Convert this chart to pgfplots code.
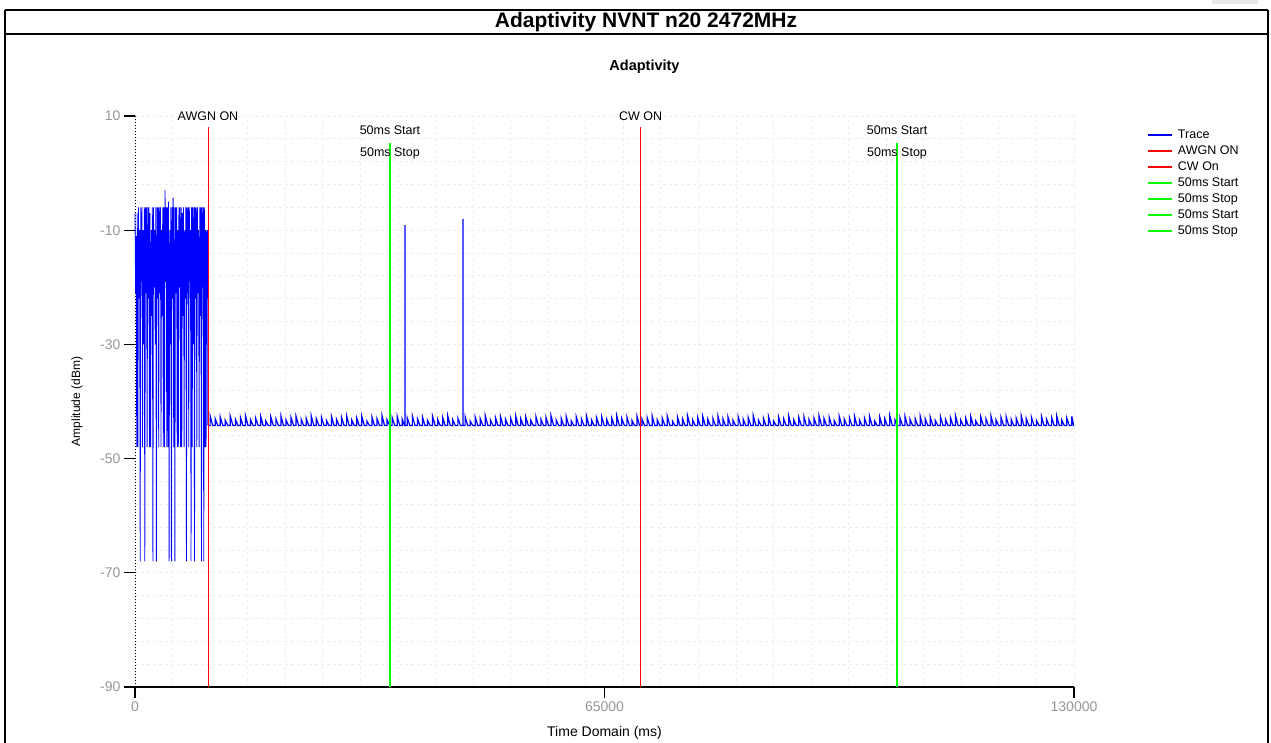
\documentclass[border=0pt]{standalone}
\usepackage{pgfplots}
\pgfplotsset{compat=1.18}
\usepackage{pgfplotstable}
\usepackage{fontspec}
\setmainfont{Liberation Sans}

\definecolor{tracebl}{RGB}{0,0,255}
\definecolor{markred}{RGB}{255,0,0}
\definecolor{markgrn}{RGB}{0,255,0}
\definecolor{tickgray}{RGB}{150,150,150}
\definecolor{gridgray}{RGB}{238,238,238}

% Noise floor after the AWGN burst (-44.2 dBm) with its small spikes:
% each spike is base -> peak -> base
\pgfplotstableread[row sep=\\]{
x y\\
10220 -44.2\\
10400 -44.2\\ 10400 -42.5\\ 10750 -44.2\\ 11100 -44.2\\ 11100 -43.0\\ 11450 -44.2\\
11800 -44.2\\ 11800 -42.7\\ 12150 -44.2\\ 12500 -44.2\\ 12500 -43.3\\ 12850 -44.2\\
13200 -44.2\\ 13200 -42.6\\ 13550 -44.2\\ 13900 -44.2\\ 13900 -43.1\\ 14250 -44.2\\
14600 -44.2\\ 14600 -42.8\\ 14950 -44.2\\ 15300 -44.2\\ 15300 -42.5\\ 15650 -44.2\\
16000 -44.2\\ 16000 -43.2\\ 16350 -44.2\\ 16700 -44.2\\ 16700 -42.9\\ 17050 -44.2\\
17400 -44.2\\ 17400 -42.6\\ 17750 -44.2\\ 18100 -44.2\\ 18100 -43.4\\ 18450 -44.2\\
18800 -44.2\\ 18800 -42.7\\ 19150 -44.2\\ 19500 -44.2\\ 19500 -43.0\\ 19850 -44.2\\
20200 -44.2\\ 20200 -42.5\\ 20550 -44.2\\ 20900 -44.2\\ 20900 -43.2\\ 21250 -44.2\\
21600 -44.2\\ 21600 -42.8\\ 21950 -44.2\\ 22300 -44.2\\ 22300 -42.6\\ 22650 -44.2\\
23000 -44.2\\ 23000 -43.1\\ 23350 -44.2\\ 23700 -44.2\\ 23700 -42.9\\ 24050 -44.2\\
24400 -44.2\\ 24400 -42.5\\ 24750 -44.2\\ 25100 -44.2\\ 25100 -43.0\\ 25450 -44.2\\
25800 -44.2\\ 25800 -42.7\\ 26150 -44.2\\ 26500 -44.2\\ 26500 -43.3\\ 26850 -44.2\\
27200 -44.2\\ 27200 -42.6\\ 27550 -44.2\\ 27900 -44.2\\ 27900 -43.1\\ 28250 -44.2\\
28600 -44.2\\ 28600 -42.8\\ 28950 -44.2\\ 29300 -44.2\\ 29300 -42.5\\ 29650 -44.2\\
30000 -44.2\\ 30000 -43.2\\ 30350 -44.2\\ 30700 -44.2\\ 30700 -42.9\\ 31050 -44.2\\
31400 -44.2\\ 31400 -42.6\\ 31750 -44.2\\ 32100 -44.2\\ 32100 -43.4\\ 32450 -44.2\\
32800 -44.2\\ 32800 -42.7\\ 33150 -44.2\\ 33500 -44.2\\ 33500 -43.0\\ 33850 -44.2\\
34200 -44.2\\ 34200 -42.5\\ 34550 -44.2\\ 34900 -44.2\\ 34900 -43.2\\ 35250 -44.2\\
35600 -44.2\\ 35600 -42.8\\ 35950 -44.2\\ 36300 -44.2\\ 36300 -42.6\\ 36650 -44.2\\
37000 -44.2\\ 37000 -43.1\\ 37300 -44.2\\ 37380 -44.2\\ 37380 -9.1\\ 37390 -44.2\\
37700 -44.2\\ 37700 -42.9\\ 38050 -44.2\\ 38400 -44.2\\ 38400 -42.5\\ 38750 -44.2\\
39100 -44.2\\ 39100 -43.0\\ 39450 -44.2\\ 39800 -44.2\\ 39800 -42.7\\ 40150 -44.2\\
40500 -44.2\\ 40500 -43.3\\ 40850 -44.2\\ 41200 -44.2\\ 41200 -42.6\\ 41550 -44.2\\
41900 -44.2\\ 41900 -43.1\\ 42250 -44.2\\ 42600 -44.2\\ 42600 -42.8\\ 42950 -44.2\\
43300 -44.2\\ 43300 -42.5\\ 43650 -44.2\\ 44000 -44.2\\ 44000 -43.2\\ 44350 -44.2\\
44700 -44.2\\ 44700 -42.9\\ 45050 -44.2\\ 45410 -44.2\\ 45410 -8.0\\ 45420 -44.2\\
45700 -44.2\\ 45700 -42.6\\ 46050 -44.2\\ 46400 -44.2\\ 46400 -43.4\\ 46750 -44.2\\
47100 -44.2\\ 47100 -42.7\\ 47450 -44.2\\ 47800 -44.2\\ 47800 -43.0\\ 48150 -44.2\\
48500 -44.2\\ 48500 -42.5\\ 48850 -44.2\\ 49200 -44.2\\ 49200 -43.2\\ 49550 -44.2\\
49900 -44.2\\ 49900 -42.8\\ 50250 -44.2\\ 50600 -44.2\\ 50600 -42.6\\ 50950 -44.2\\
51300 -44.2\\ 51300 -43.1\\ 51650 -44.2\\ 52000 -44.2\\ 52000 -42.9\\ 52350 -44.2\\
52700 -44.2\\ 52700 -42.5\\ 53050 -44.2\\ 53400 -44.2\\ 53400 -43.0\\ 53750 -44.2\\
54100 -44.2\\ 54100 -42.7\\ 54450 -44.2\\ 54800 -44.2\\ 54800 -43.3\\ 55150 -44.2\\
55500 -44.2\\ 55500 -42.6\\ 55850 -44.2\\ 56200 -44.2\\ 56200 -43.1\\ 56550 -44.2\\
56900 -44.2\\ 56900 -42.8\\ 57250 -44.2\\ 57600 -44.2\\ 57600 -42.5\\ 57950 -44.2\\
58300 -44.2\\ 58300 -43.2\\ 58650 -44.2\\ 59000 -44.2\\ 59000 -42.9\\ 59350 -44.2\\
59700 -44.2\\ 59700 -42.6\\ 60050 -44.2\\ 60400 -44.2\\ 60400 -43.4\\ 60750 -44.2\\
61100 -44.2\\ 61100 -42.7\\ 61450 -44.2\\ 61800 -44.2\\ 61800 -43.0\\ 62150 -44.2\\
62500 -44.2\\ 62500 -42.5\\ 62850 -44.2\\ 63200 -44.2\\ 63200 -43.2\\ 63550 -44.2\\
63900 -44.2\\ 63900 -42.8\\ 64250 -44.2\\ 64600 -44.2\\ 64600 -42.6\\ 64950 -44.2\\
65300 -44.2\\ 65300 -43.1\\ 65650 -44.2\\ 66000 -44.2\\ 66000 -42.9\\ 66350 -44.2\\
66700 -44.2\\ 66700 -42.5\\ 67050 -44.2\\ 67400 -44.2\\ 67400 -43.0\\ 67750 -44.2\\
68100 -44.2\\ 68100 -42.7\\ 68450 -44.2\\ 68800 -44.2\\ 68800 -43.3\\ 69150 -44.2\\
69500 -44.2\\ 69500 -42.6\\ 69850 -44.2\\ 70200 -44.2\\ 70200 -43.1\\ 70550 -44.2\\
70900 -44.2\\ 70900 -42.8\\ 71250 -44.2\\ 71600 -44.2\\ 71600 -42.5\\ 71950 -44.2\\
72300 -44.2\\ 72300 -43.2\\ 72650 -44.2\\ 73000 -44.2\\ 73000 -42.9\\ 73350 -44.2\\
73700 -44.2\\ 73700 -42.6\\ 74050 -44.2\\ 74400 -44.2\\ 74400 -43.4\\ 74750 -44.2\\
75100 -44.2\\ 75100 -42.7\\ 75450 -44.2\\ 75800 -44.2\\ 75800 -43.0\\ 76150 -44.2\\
76500 -44.2\\ 76500 -42.5\\ 76850 -44.2\\ 77200 -44.2\\ 77200 -43.2\\ 77550 -44.2\\
77900 -44.2\\ 77900 -42.8\\ 78250 -44.2\\ 78600 -44.2\\ 78600 -42.6\\ 78950 -44.2\\
79300 -44.2\\ 79300 -43.1\\ 79650 -44.2\\ 80000 -44.2\\ 80000 -42.9\\ 80350 -44.2\\
80700 -44.2\\ 80700 -42.5\\ 81050 -44.2\\ 81400 -44.2\\ 81400 -43.0\\ 81750 -44.2\\
82100 -44.2\\ 82100 -42.7\\ 82450 -44.2\\ 82800 -44.2\\ 82800 -43.3\\ 83150 -44.2\\
83500 -44.2\\ 83500 -42.6\\ 83850 -44.2\\ 84200 -44.2\\ 84200 -43.1\\ 84550 -44.2\\
84900 -44.2\\ 84900 -42.8\\ 85250 -44.2\\ 85600 -44.2\\ 85600 -42.5\\ 85950 -44.2\\
86300 -44.2\\ 86300 -43.2\\ 86650 -44.2\\ 87000 -44.2\\ 87000 -42.9\\ 87350 -44.2\\
87700 -44.2\\ 87700 -42.6\\ 88050 -44.2\\ 88400 -44.2\\ 88400 -43.4\\ 88750 -44.2\\
89100 -44.2\\ 89100 -42.7\\ 89450 -44.2\\ 89800 -44.2\\ 89800 -43.0\\ 90150 -44.2\\
90500 -44.2\\ 90500 -42.5\\ 90850 -44.2\\ 91200 -44.2\\ 91200 -43.2\\ 91550 -44.2\\
91900 -44.2\\ 91900 -42.8\\ 92250 -44.2\\ 92600 -44.2\\ 92600 -42.6\\ 92950 -44.2\\
93300 -44.2\\ 93300 -43.1\\ 93650 -44.2\\ 94000 -44.2\\ 94000 -42.9\\ 94350 -44.2\\
94700 -44.2\\ 94700 -42.5\\ 95050 -44.2\\ 95400 -44.2\\ 95400 -43.0\\ 95750 -44.2\\
96100 -44.2\\ 96100 -42.7\\ 96450 -44.2\\ 96800 -44.2\\ 96800 -43.3\\ 97150 -44.2\\
97500 -44.2\\ 97500 -42.6\\ 97850 -44.2\\ 98200 -44.2\\ 98200 -43.1\\ 98550 -44.2\\
98900 -44.2\\ 98900 -42.8\\ 99250 -44.2\\ 99600 -44.2\\ 99600 -42.5\\ 99950 -44.2\\
100300 -44.2\\ 100300 -43.2\\ 100650 -44.2\\ 101000 -44.2\\ 101000 -42.9\\ 101350 -44.2\\
101700 -44.2\\ 101700 -42.6\\ 102050 -44.2\\ 102400 -44.2\\ 102400 -43.4\\ 102750 -44.2\\
103100 -44.2\\ 103100 -42.7\\ 103450 -44.2\\ 103800 -44.2\\ 103800 -43.0\\ 104150 -44.2\\
104500 -44.2\\ 104500 -42.5\\ 104850 -44.2\\ 105200 -44.2\\ 105200 -43.2\\ 105550 -44.2\\
105900 -44.2\\ 105900 -42.8\\ 106250 -44.2\\ 106600 -44.2\\ 106600 -42.6\\ 106950 -44.2\\
107300 -44.2\\ 107300 -43.1\\ 107650 -44.2\\ 108000 -44.2\\ 108000 -42.9\\ 108350 -44.2\\
108700 -44.2\\ 108700 -42.5\\ 109050 -44.2\\ 109400 -44.2\\ 109400 -43.0\\ 109750 -44.2\\
110100 -44.2\\ 110100 -42.7\\ 110450 -44.2\\ 110800 -44.2\\ 110800 -43.3\\ 111150 -44.2\\
111500 -44.2\\ 111500 -42.6\\ 111850 -44.2\\ 112200 -44.2\\ 112200 -43.1\\ 112550 -44.2\\
112900 -44.2\\ 112900 -42.8\\ 113250 -44.2\\ 113600 -44.2\\ 113600 -42.5\\ 113950 -44.2\\
114300 -44.2\\ 114300 -43.2\\ 114650 -44.2\\ 115000 -44.2\\ 115000 -42.9\\ 115350 -44.2\\
115700 -44.2\\ 115700 -42.6\\ 116050 -44.2\\ 116400 -44.2\\ 116400 -43.4\\ 116750 -44.2\\
117100 -44.2\\ 117100 -42.7\\ 117450 -44.2\\ 117800 -44.2\\ 117800 -43.0\\ 118150 -44.2\\
118500 -44.2\\ 118500 -42.5\\ 118850 -44.2\\ 119200 -44.2\\ 119200 -43.2\\ 119550 -44.2\\
119900 -44.2\\ 119900 -42.8\\ 120250 -44.2\\ 120600 -44.2\\ 120600 -42.6\\ 120950 -44.2\\
121300 -44.2\\ 121300 -43.1\\ 121650 -44.2\\ 122000 -44.2\\ 122000 -42.9\\ 122350 -44.2\\
122700 -44.2\\ 122700 -42.5\\ 123050 -44.2\\ 123400 -44.2\\ 123400 -43.0\\ 123750 -44.2\\
124100 -44.2\\ 124100 -42.7\\ 124450 -44.2\\ 124800 -44.2\\ 124800 -43.3\\ 125150 -44.2\\
125500 -44.2\\ 125500 -42.6\\ 125850 -44.2\\ 126200 -44.2\\ 126200 -43.1\\ 126550 -44.2\\
126900 -44.2\\ 126900 -42.8\\ 127250 -44.2\\ 127600 -44.2\\ 127600 -42.5\\ 127950 -44.2\\
128300 -44.2\\ 128300 -43.2\\ 128650 -44.2\\ 129000 -44.2\\ 129000 -42.9\\ 129350 -44.2\\
129700 -44.2\\ 129700 -42.6\\ 129950 -44.2\\ 130000 -44.2\\
}\floortab

\begin{document}
\begin{tikzpicture}
\useasboundingbox (0pt,0pt) rectangle (1271pt,-742pt);

% report frame and title box
\fill[gray!18] (1212pt,0pt) rectangle (1258pt,-4pt);
\draw[line width=1.3pt] (5pt,-10pt) -- (1268pt,-10pt);
\draw[line width=1.3pt] (5pt,-34pt) -- (1268pt,-34pt);
\draw[line width=1.3pt] (5pt,-10pt) -- (5pt,-760pt);
\draw[line width=1.3pt] (1268pt,-10pt) -- (1268pt,-760pt);
\node[font=\fontsize{21}{25}\selectfont\bfseries] at (646pt,-22.5pt) {Adaptivity NVNT n20 2472MHz};
\node[font=\fontsize{14.5}{17}\selectfont\bfseries] at (644.5pt,-67pt) {Adaptivity};

\begin{axis}[
  at={(135pt,-687pt)}, anchor=south west,
  scale only axis, width=939pt, height=571pt,
  xmin=0, xmax=130000, ymin=-90, ymax=10,
  clip=false,
  scaled x ticks=false, scaled y ticks=false,
  axis x line*=bottom, axis y line*=left,
  x axis line style={-, line width=1.2pt, black},
  y axis line style={-, line width=1pt, black, dotted},
  xtick={0,65000,130000}, xticklabels={0,65000,130000},
  ytick={-90,-70,-50,-30,-10,10}, yticklabels={-90,-70,-50,-30,-10,10},
  minor xtick={0,5200,10400,15600,20800,26000,31200,36400,41600,46800,52000,57200,62400,
    67600,72800,78000,83200,88400,93600,98800,104000,109200,114400,119600,124800,130000},
  minor ytick={-90,-86,-82,-78,-74,-70,-66,-62,-58,-54,-50,-46,-42,-38,-34,-30,-26,-22,
    -18,-14,-10,-6,-2,2,6,10},
  xminorgrids=true, yminorgrids=true,
  minor grid style={gridgray, dashed, line width=0.8pt},
  tick align=outside, major tick length=11pt, minor tick length=0pt,
  major tick style={black, line width=1.3pt},
  tick label style={tickgray, font=\fontsize{14}{16}\selectfont},
  xlabel={Time Domain (ms)}, ylabel={Amplitude (dBm)},
  every axis x label/.style={at={(axis description cs:0.5,-0.0806)}, anchor=center,
    font=\fontsize{14}{16}\selectfont},
  every axis y label/.style={at={(axis description cs:-0.0618,0.5)}, anchor=center,
    rotate=90, font=\fontsize{12}{14}\selectfont},
  legend style={at={(axis description cs:1.0777,0.9805)}, anchor=north west,
    draw=none, fill=none, inner sep=0pt, row sep=0pt,
    font=\fontsize{12.5}{14}\selectfont,
    nodes={inner sep=1pt, text height=10.5pt, text depth=3.5pt},
    /tikz/every odd column/.append style={column sep=4pt}},
  legend cell align=left,
  legend image code/.code={\draw[#1, line width=1.8pt] (0pt,0pt) -- (24pt,0pt);},
]

% AWGN burst
\addplot[tracebl, line width=0.8pt, sharp plot] coordinates {
(0,-7) (80,-21) (160,-11) (240,-48) (320,-7) (400,-48) (480,-6) (560,-22) (640,-10) (720,-68)
(800,-6) (880,-19) (960,-6) (1040,-48) (1120,-10) (1200,-30) (1280,-6) (1360,-68) (1440,-6) (1520,-21)
(1600,-6) (1680,-48) (1760,-6) (1840,-22) (1920,-6) (2000,-48) (2080,-7) (2160,-48) (2240,-10) (2320,-25)
(2400,-6) (2480,-68) (2560,-6) (2640,-20) (2720,-10) (2800,-30) (2880,-6) (2960,-68) (3040,-6) (3120,-22)
(3200,-6) (3280,-48) (3360,-6) (3440,-21) (3520,-6) (3600,-48) (3680,-10) (3760,-25) (3840,-6) (3920,-48)
(4000,-6) (4080,-48) (4160,-3) (4240,-19) (4320,-6) (4400,-48) (4480,-6) (4560,-48) (4640,-5) (4720,-68)
(4800,-10) (4880,-30) (4960,-6) (5040,-68) (5120,-6) (5200,-22) (5280,-4.3) (5360,-48) (5440,-6) (5520,-68)
(5600,-6) (5680,-21) (5760,-6) (5840,-48) (5920,-10) (6000,-48) (6080,-6) (6160,-20) (6240,-6) (6320,-48)
(6400,-6) (6480,-48) (6560,-7) (6640,-25) (6720,-6) (6800,-48) (6880,-10) (6960,-22) (7040,-6) (7120,-68)
(7200,-6) (7280,-21) (7360,-6) (7440,-48) (7520,-6) (7600,-19) (7680,-10) (7760,-68) (7840,-6) (7920,-48)
(8000,-6) (8080,-30) (8160,-6) (8240,-68) (8320,-6) (8400,-22) (8480,-6) (8560,-48) (8640,-6) (8720,-21)
(8800,-10) (8880,-48) (8960,-6) (9040,-25) (9120,-6) (9200,-68) (9280,-6) (9360,-20) (9440,-6) (9520,-68)
(9600,-6) (9680,-48) (9760,-10) (9840,-48) (9920,-10) (10000,-22) (10060,-10) (10080,-44.2)
};
\addlegendentry{Trace}

% noise floor with its spikes
\addplot[tracebl, line width=1.2pt, sharp plot, forget plot] table[x=x, y=y] {\floortab};
\addplot[tracebl, line width=1.2pt, sharp plot, forget plot] coordinates {(10080,-44.2) (10220,-44.2)};

% event markers
\addplot[color=markred, line width=1pt] coordinates {(10160,-90) (10160,8)};
\addlegendentry{AWGN ON}
\addplot[color=markred, line width=1pt] coordinates {(70000,-90) (70000,8)};
\addlegendentry{CW On}
\addplot[color=markgrn, line width=1.5pt] coordinates {(35300,-90) (35300,5.3)};
\addlegendentry{50ms Start}
\addplot[color=markgrn, line width=1.5pt] coordinates {(35350,-90) (35350,5.3)};
\addlegendentry{50ms Stop}
\addplot[color=markgrn, line width=1.5pt] coordinates {(105500,-90) (105500,5.3)};
\addlegendentry{50ms Start}
\addplot[color=markgrn, line width=1.5pt] coordinates {(105550,-90) (105550,5.3)};
\addlegendentry{50ms Stop}

\begin{scope}[every node/.style={font=\fontsize{12.5}{14}\selectfont}]
\node at (axis cs:10100,10) {AWGN ON};
\node at (axis cs:70000,10) {CW ON};
\node at (axis cs:35300,7.55) {50ms Start};
\node at (axis cs:35300,3.5) {50ms Stop};
\node at (axis cs:105500,7.55) {50ms Start};
\node at (axis cs:105500,3.5) {50ms Stop};
\end{scope}
\end{axis}
\end{tikzpicture}
\end{document}
